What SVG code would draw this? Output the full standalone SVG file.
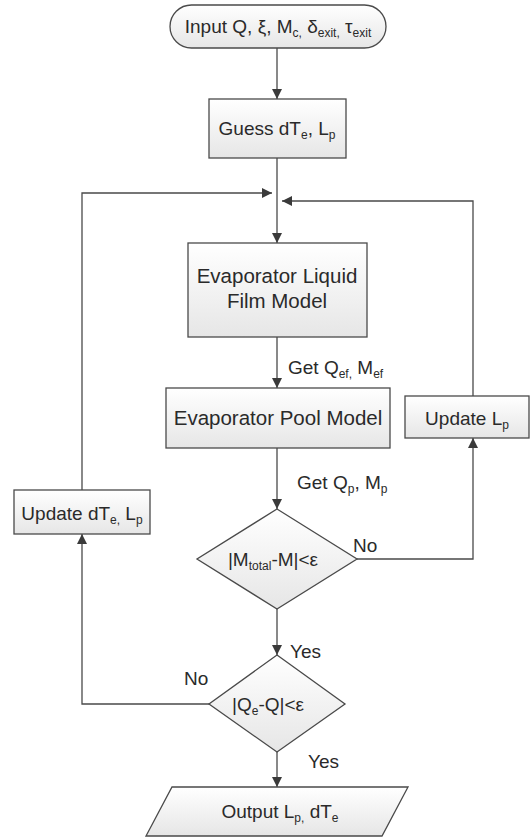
<svg xmlns="http://www.w3.org/2000/svg" width="531" height="838" viewBox="0 0 531 838">
<style>
.box{fill:url(#g);stroke:#4a4a4a;stroke-width:1.3}
.ln{fill:none;stroke:#4a4a4a;stroke-width:1.3}
.t{font-family:"Liberation Sans",Arial,sans-serif;font-size:19px;fill:#2a2a2a}
.b{font-size:20.5px}
.m{text-anchor:middle}
.s{font-size:12px}
</style>
<defs>
<linearGradient id="g" x1="0" y1="0" x2="0" y2="1">
<stop offset="0" stop-color="#ffffff"/>
<stop offset="1" stop-color="#e6e6e6"/>
</linearGradient>
<marker id="a" viewBox="0 0 10 10" refX="10" refY="5" markerWidth="10" markerHeight="10" markerUnits="userSpaceOnUse" orient="auto">
<path d="M0,0 L10,5 L0,10 z" fill="#3a3a3a"/>
</marker>
</defs>
<rect width="531" height="838" fill="#ffffff"/>
<g id="connectors">
<path class="ln" d="M277,48 V99" marker-end="url(#a)"/>
<path class="ln" d="M277,158 V243" marker-end="url(#a)"/>
<path class="ln" d="M82,490 V193 H272" marker-end="url(#a)"/>
<path class="ln" d="M473,396 V201 H282" marker-end="url(#a)"/>
<path class="ln" d="M277,337 V388" marker-end="url(#a)"/>
<path class="ln" d="M277,448 V509" marker-end="url(#a)"/>
<path class="ln" d="M357,559 H473 V438" marker-end="url(#a)"/>
<path class="ln" d="M277,609 V655" marker-end="url(#a)"/>
<path class="ln" d="M209,704 H82 V534" marker-end="url(#a)"/>
<path class="ln" d="M277,752 V787" marker-end="url(#a)"/>
<text class="t" x="288" y="374">Get Q<tspan class="s" dy="4">ef,</tspan><tspan dy="-4"> M</tspan><tspan class="s" dy="4">ef</tspan></text>
<text class="t" x="297" y="489">Get Q<tspan class="s" dy="4">p</tspan><tspan dy="-4">, M</tspan><tspan class="s" dy="4">p</tspan></text>
<text class="t" x="353" y="552">No</text>
<text class="t" x="290" y="658">Yes</text>
<text class="t" x="184" y="685">No</text>
<text class="t" x="308" y="768">Yes</text>
</g>
<g id="start">
<rect class="box" x="170" y="5" width="216" height="43" rx="21.5" ry="21.5"/>
<text class="t m" x="278" y="33">Input Q, ξ, M<tspan class="s" dy="4">c,</tspan><tspan dy="-4"> δ</tspan><tspan class="s" dy="4">exit,</tspan><tspan dy="-4"> τ</tspan><tspan class="s" dy="4">exit</tspan></text>
</g>
<g id="guess">
<rect class="box" x="209" y="99" width="137" height="59"/>
<text class="t m" x="277" y="135">Guess dT<tspan class="s" dy="4">e</tspan><tspan dy="-4">, L</tspan><tspan class="s" dy="4">p</tspan></text>
</g>
<g id="film">
<rect class="box" x="188" y="243" width="179" height="94"/>
<text class="t b m" x="277" y="283">Evaporator Liquid</text>
<text class="t b m" x="277" y="308">Film Model</text>
</g>
<g id="pool">
<rect class="box" x="166" y="388" width="224" height="60"/>
<text class="t b m" x="278" y="425">Evaporator Pool Model</text>
</g>
<g id="updateLp">
<rect class="box" x="405" y="396" width="124" height="42"/>
<text class="t m" x="467" y="425">Update L<tspan class="s" dy="4">p</tspan></text>
</g>
<g id="updateDTe">
<rect class="box" x="14" y="490" width="136" height="44"/>
<text class="t m" x="82" y="520">Update dT<tspan class="s" dy="4">e,</tspan><tspan dy="-4"> L</tspan><tspan class="s" dy="4">p</tspan></text>
</g>
<g id="checkM">
<polygon class="box" points="277,509 357,559 277,609 197,559"/>
<text class="t m" x="273" y="566">|M<tspan class="s" dy="4">total</tspan><tspan dy="-4">-M|&lt;ε</tspan></text>
</g>
<g id="checkQ">
<polygon class="box" points="277,655 345,704 277,752 209,704"/>
<text class="t m" x="268" y="711">|Q<tspan class="s" dy="4">e</tspan><tspan dy="-4">-Q|&lt;ε</tspan></text>
</g>
<g id="output">
<polygon class="box" points="172,787 408,787 382,836 146,836"/>
<text class="t m" x="280" y="818">Output L<tspan class="s" dy="4">p,</tspan><tspan dy="-4"> dT</tspan><tspan class="s" dy="4">e</tspan></text>
</g>
</svg>
